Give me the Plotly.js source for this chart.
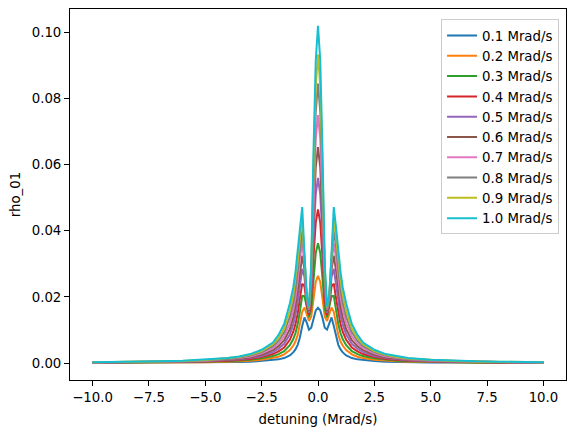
<!DOCTYPE html>
<html>
<head>
<meta charset="utf-8">
<script src="https://cdn.plot.ly/plotly-3.0.1.min.js"></script>
<style>
  html, body { margin: 0; padding: 0; background: #ffffff; }
  #chart { width: 576px; height: 432px; }
</style>
</head>
<body>
<div id="chart"></div>
<script>
// Detuning values (Mrad/s)
const detuning = [-10, -9, -8, -7, -6, -5, -4, -3.5, -3, -2.5, -2, -1.75, -1.5, -1.25, -1.1, -1.0, -0.9, -0.8, -0.7, -0.6, -0.5, -0.4, -0.3, -0.2, -0.1,
  0,
  0.1, 0.2, 0.3, 0.4, 0.5, 0.6, 0.7, 0.8, 0.9, 1.0, 1.1, 1.25, 1.5, 1.75, 2, 2.5, 3, 3.5, 4, 5, 6, 7, 8, 9, 10];

// Series labels
const seriesNames = ["0.1 Mrad/s", "0.2 Mrad/s", "0.3 Mrad/s", "0.4 Mrad/s", "0.5 Mrad/s",
  "0.6 Mrad/s", "0.7 Mrad/s", "0.8 Mrad/s", "0.9 Mrad/s", "1.0 Mrad/s"];

// rho_01 values
const rho_0p1 = [0.00005,0.00006,0.00008,0.0001,0.00012,0.00017,0.00025,0.0003,0.0004,0.0006,0.0009,0.0011,0.0015,0.0023,0.0032,0.0041,0.0055,0.0078,0.0112,0.0138,0.0122,0.0101,0.0107,0.0136,0.0159,
  0.0167,
  0.0159,0.0136,0.0107,0.0101,0.0122,0.0138,0.0112,0.0078,0.0055,0.0041,0.0032,0.0023,0.0015,0.0011,0.0009,0.0006,0.0004,0.0003,0.00025,0.00017,0.00012,0.0001,0.00008,0.00006,0.00005];
const rho_0p2 = [0.00007,0.00008,0.0001,0.00014,0.00018,0.00026,0.0004,0.0005,0.0007,0.0010,0.0015,0.0019,0.0026,0.0039,0.0052,0.0065,0.0085,0.0115,0.0155,0.0168,0.0150,0.0127,0.0140,0.0195,0.0245,
  0.0264,
  0.0245,0.0195,0.0140,0.0127,0.0150,0.0168,0.0155,0.0115,0.0085,0.0065,0.0052,0.0039,0.0026,0.0019,0.0015,0.0010,0.0007,0.0005,0.0004,0.00026,0.00018,0.00014,0.0001,0.00008,0.00007];
const rho_0p3 = [0.0001,0.00012,0.00015,0.00019,0.00025,0.00036,0.00055,0.0007,0.0010,0.0014,0.0021,0.0027,0.0036,0.0054,0.0072,0.0090,0.0118,0.0156,0.0203,0.0202,0.0168,0.0138,0.0165,0.0255,0.0333,
  0.0362,
  0.0333,0.0255,0.0165,0.0138,0.0168,0.0202,0.0203,0.0156,0.0118,0.0090,0.0072,0.0054,0.0036,0.0027,0.0021,0.0014,0.0010,0.0007,0.00055,0.00036,0.00025,0.00019,0.00015,0.00012,0.0001];
const rho_0p4 = [0.00012,0.00015,0.00019,0.00024,0.00032,0.00046,0.0007,0.0009,0.0012,0.0018,0.0027,0.0035,0.0047,0.0070,0.0094,0.0117,0.0150,0.0196,0.0240,0.0232,0.0178,0.0145,0.0190,0.0320,0.0425,
  0.0465,
  0.0425,0.0320,0.0190,0.0145,0.0178,0.0232,0.0240,0.0196,0.0150,0.0117,0.0094,0.0070,0.0047,0.0035,0.0027,0.0018,0.0012,0.0009,0.0007,0.00046,0.00032,0.00024,0.00019,0.00015,0.00012];
const rho_0p5 = [0.00014,0.00017,0.00022,0.00028,0.00038,0.00055,0.0008,0.0011,0.0015,0.0021,0.0033,0.0043,0.0058,0.0086,0.0116,0.0145,0.0185,0.0238,0.0285,0.0260,0.0188,0.0152,0.0215,0.0380,0.0510,
  0.0560,
  0.0510,0.0380,0.0215,0.0152,0.0188,0.0260,0.0285,0.0238,0.0185,0.0145,0.0116,0.0086,0.0058,0.0043,0.0033,0.0021,0.0015,0.0011,0.0008,0.00055,0.00038,0.00028,0.00022,0.00017,0.00014];
const rho_0p6 = [0.00016,0.0002,0.00025,0.00033,0.00044,0.00064,0.0010,0.0013,0.0017,0.0025,0.0039,0.0051,0.0069,0.0102,0.0138,0.0172,0.0218,0.0280,0.0325,0.0283,0.0192,0.0157,0.0235,0.0435,0.0592,
  0.0653,
  0.0592,0.0435,0.0235,0.0157,0.0192,0.0283,0.0325,0.0280,0.0218,0.0172,0.0138,0.0102,0.0069,0.0051,0.0039,0.0025,0.0017,0.0013,0.0010,0.00064,0.00044,0.00033,0.00025,0.0002,0.00016];
const rho_0p7 = [0.00018,0.00022,0.00028,0.00037,0.0005,0.00072,0.0011,0.0015,0.0020,0.0029,0.0045,0.0059,0.0081,0.0120,0.0160,0.0198,0.0250,0.0318,0.0362,0.0302,0.0196,0.0162,0.0255,0.0492,0.0677,
  0.0750,
  0.0677,0.0492,0.0255,0.0162,0.0196,0.0302,0.0362,0.0318,0.0250,0.0198,0.0160,0.0120,0.0081,0.0059,0.0045,0.0029,0.0020,0.0015,0.0011,0.00072,0.0005,0.00037,0.00028,0.00022,0.00018];
const rho_0p8 = [0.0002,0.00025,0.00031,0.00041,0.00056,0.0008,0.0012,0.0017,0.0023,0.0033,0.0051,0.0068,0.0093,0.0140,0.0183,0.0224,0.0280,0.0352,0.0400,0.0315,0.0199,0.0165,0.0270,0.0545,0.0760,
  0.0845,
  0.0760,0.0545,0.0270,0.0165,0.0199,0.0315,0.0400,0.0352,0.0280,0.0224,0.0183,0.0140,0.0093,0.0068,0.0051,0.0033,0.0023,0.0017,0.0012,0.0008,0.00056,0.00041,0.00031,0.00025,0.0002];
const rho_0p9 = [0.00022,0.00028,0.00035,0.00046,0.00062,0.0009,0.0014,0.0018,0.0025,0.0036,0.0057,0.0075,0.0104,0.0158,0.0205,0.0250,0.0308,0.0382,0.0435,0.0322,0.0202,0.0168,0.0285,0.0592,0.0838,
  0.0933,
  0.0838,0.0592,0.0285,0.0168,0.0202,0.0322,0.0435,0.0382,0.0308,0.0250,0.0205,0.0158,0.0104,0.0075,0.0057,0.0036,0.0025,0.0018,0.0014,0.0009,0.00062,0.00046,0.00035,0.00028,0.00022];
const rho_1p0 = [0.00025,0.0003,0.0004,0.0005,0.0007,0.0010,0.0015,0.0020,0.0027,0.0040,0.0062,0.0085,0.0118,0.0180,0.0228,0.0275,0.0335,0.0410,0.0472,0.0330,0.0205,0.0170,0.0300,0.0640,0.0915,
  0.1020,
  0.0915,0.0640,0.0300,0.0170,0.0205,0.0330,0.0472,0.0410,0.0335,0.0275,0.0228,0.0180,0.0118,0.0085,0.0062,0.0040,0.0027,0.0020,0.0015,0.0010,0.0007,0.0005,0.0004,0.0003,0.00025];

const seriesValues = [rho_0p1, rho_0p2, rho_0p3, rho_0p4, rho_0p5, rho_0p6, rho_0p7, rho_0p8, rho_0p9, rho_1p0];

const colors = ["#1f77b4", "#ff7f0e", "#2ca02c", "#d62728", "#9467bd",
  "#8c564b", "#e377c2", "#7f7f7f", "#bcbd22", "#17becf"];

const traces = seriesValues.map((vals, i) => ({
  type: "scatter",
  mode: "lines",
  x: detuning,
  y: vals,
  name: seriesNames[i],
  line: { color: colors[i], width: 2 }
}));

const font = { family: "DejaVu Sans, sans-serif", size: 13.3, color: "#000000" };

const layout = {
  width: 576,
  height: 432,
  margin: { l: 70, r: 10, t: 9, b: 52, pad: 0 },
  paper_bgcolor: "#ffffff",
  plot_bgcolor: "#ffffff",
  font: font,
  showlegend: true,
  xaxis: {
    range: [-11, 11],
    tickmode: "linear",
    tick0: -10,
    dtick: 2.5,
    tickformat: ".1f",
    ticks: "outside",
    ticklen: 5,
    tickwidth: 1,
    tickcolor: "#000000",
    showline: true,
    linecolor: "#000000",
    linewidth: 1,
    mirror: true,
    showgrid: false,
    zeroline: false,
    tickfont: font,
    title: { text: "detuning (Mrad/s)", font: font, standoff: 10 }
  },
  yaxis: {
    range: [-0.00514, 0.1071],
    tickmode: "linear",
    tick0: 0,
    dtick: 0.02,
    tickformat: ".2f",
    ticks: "outside",
    ticklen: 5,
    tickwidth: 1,
    tickcolor: "#000000",
    showline: true,
    linecolor: "#000000",
    linewidth: 1,
    mirror: true,
    showgrid: false,
    zeroline: false,
    tickfont: font,
    title: { text: "rho_01", font: font, standoff: 8 }
  },
  legend: {
    x: 0.986,
    y: 0.972,
    xanchor: "right",
    yanchor: "top",
    bgcolor: "rgba(255,255,255,0.8)",
    bordercolor: "#cccccc",
    borderwidth: 1,
    font: font,
    itemwidth: 30,
    tracegroupgap: 0
  }
};

Plotly.newPlot("chart", traces, layout, { staticPlot: true, displayModeBar: false });
</script>
</body>
</html>
